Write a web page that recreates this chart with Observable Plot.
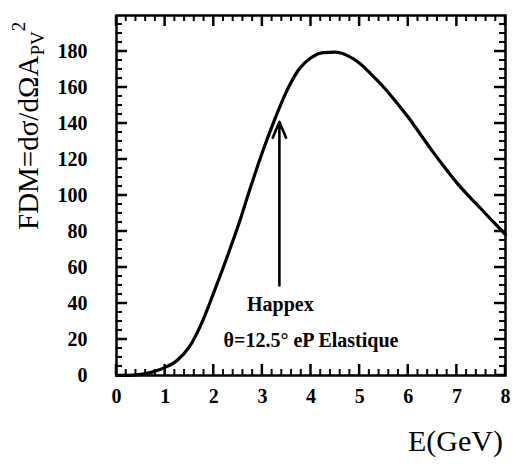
<!DOCTYPE html>
<html>
<head>
<meta charset="utf-8">
<script src="https://cdn.jsdelivr.net/npm/d3@7"></script>
<script src="https://cdn.jsdelivr.net/npm/@observablehq/plot@0.6"></script>
<style>
  html, body { margin: 0; padding: 0; background: #fff; }
  svg { display: block; }
</style>
</head>
<body>
<div id="chart"></div>
<script>
// Curve: E (GeV) vs FDM
const energy = [0, 0.25, 0.5, 0.75, 1.0, 1.25, 1.5, 1.75, 2.0, 2.25, 2.5, 2.75, 3.0, 3.25, 3.5, 3.75, 4.0, 4.25, 4.5, 4.75, 5.0, 5.25, 5.5, 5.75, 6.0, 6.25, 6.5, 6.75, 7.0, 7.25, 7.5, 7.75, 8.0];
const fdm    = [0, 0.1, 0.6, 2.0, 4.5, 8.5, 16, 29, 46, 64, 83, 104, 124, 142, 158, 170, 176.5, 179.4, 179.6, 177.7, 173.5, 167, 160, 152, 143.5, 134, 124.5, 115.5, 107, 99.5, 92.5, 85.3, 78.3];

// Axes
const xTicks = [0, 1, 2, 3, 4, 5, 6, 7, 8];
const xMinorTicks = [0.2, 0.4, 0.6, 0.8, 1.2, 1.4, 1.6, 1.8, 2.2, 2.4, 2.6, 2.8, 3.2, 3.4, 3.6, 3.8, 4.2, 4.4, 4.6, 4.8, 5.2, 5.4, 5.6, 5.8, 6.2, 6.4, 6.6, 6.8, 7.2, 7.4, 7.6, 7.8];
const yTicks = [0, 20, 40, 60, 80, 100, 120, 140, 160, 180];
const yMinorTicks = [5, 10, 15, 25, 30, 35, 45, 50, 55, 65, 70, 75, 85, 90, 95, 105, 110, 115, 125, 130, 135, 145, 150, 155, 165, 170, 175, 185, 190, 195];
const xDomain = [0, 8];
const yDomain = [0, 200];

// Annotation
const arrowX = [3.35];
const arrowFrom = [50];
const arrowTo = [141];
const labelText = ["Happex", "θ=12.5° eP Elastique"];
const labelX = [3.37, 4.0];
const labelY = [39.3, 19.4];

const curve = energy.map((e, i) => ({e, v: fdm[i]}));
const arrows = arrowX.map((x, i) => ({x, y1: arrowFrom[i], y2: arrowTo[i]}));
const labels = labelText.map((t, i) => ({t, x: labelX[i], y: labelY[i]}));

const tickFont = "Liberation Serif";

const chart = Plot.plot({
  width: 526,
  height: 468,
  marginLeft: 116,
  marginRight: 21,
  marginTop: 15,
  marginBottom: 93,
  style: {fontFamily: tickFont, background: "#fff"},
  x: {domain: xDomain, axis: null},
  y: {domain: yDomain, axis: null},
  marks: [
    Plot.axisX(xTicks, {anchor: "bottom", tickSize: 0, tickPadding: 13, label: null, fontSize: 20, fontWeight: "bold", fill: "#000"}),
    Plot.axisY(yTicks, {anchor: "left", tickSize: 0, tickPadding: 29, label: null, fontSize: 20, fontWeight: "bold", fill: "#000"}),
    Plot.frame({stroke: "#000", strokeWidth: 2.5}),
    Plot.line(curve, {x: "e", y: "v", stroke: "#000", strokeWidth: 3.2, curve: "monotone-x"}),
    Plot.arrow(arrows, {x: "x", y1: "y1", y2: "y2", stroke: "#000", strokeWidth: 2.6, headLength: 10, headAngle: 45}),
    Plot.text(labels, {x: "x", y: "y", text: "t", fontSize: 20, fontWeight: "bold", fill: "#000"})
  ]
});

document.getElementById("chart").appendChild(chart);

const svg = d3.select(chart);
const sx = chart.scale("x"), sy = chart.scale("y");
const x0 = sx.apply(xDomain[0]), x1 = sx.apply(xDomain[1]);
const y0 = sy.apply(yDomain[0]), y1 = sy.apply(yDomain[1]);

// inward ticks on all four sides, positioned with Plot's own scales
const tg = svg.append("g").attr("stroke", "#000").attr("fill", "none");
function drawTicksX(values, len, sw) {
  for (const v of values) {
    const px = sx.apply(v);
    tg.append("line").attr("x1", px).attr("x2", px).attr("y1", y0).attr("y2", y0 - len).attr("stroke-width", sw);
    tg.append("line").attr("x1", px).attr("x2", px).attr("y1", y1).attr("y2", y1 + len).attr("stroke-width", sw);
  }
}
function drawTicksY(values, len, sw) {
  for (const v of values) {
    const py = sy.apply(v);
    tg.append("line").attr("y1", py).attr("y2", py).attr("x1", x0).attr("x2", x0 + len).attr("stroke-width", sw);
    tg.append("line").attr("y1", py).attr("y2", py).attr("x1", x1).attr("x2", x1 - len).attr("stroke-width", sw);
  }
}
drawTicksX(xMinorTicks, 6, 2);
drawTicksX(xTicks, 11, 2.5);
drawTicksY(yMinorTicks, 6, 2);
drawTicksY(yTicks, 11, 2.5);

const yt = svg.append("text")
  .attr("transform", "translate(38,230) rotate(-90)")
  .attr("text-anchor", "start")
  .attr("font-family", tickFont)
  .attr("font-size", 29)
  .attr("fill", "#000");
yt.append("tspan").text("FDM=dσ/dΩA");
yt.append("tspan").attr("font-size", 19).attr("dy", 6).text("PV");
yt.append("tspan").attr("font-size", 19).attr("dy", -19).text("2");

svg.append("text")
  .attr("x", 503)
  .attr("y", 451)
  .attr("text-anchor", "end")
  .attr("font-family", tickFont)
  .attr("font-size", 30)
  .attr("fill", "#000")
  .text("E(GeV)");
</script>
</body>
</html>
